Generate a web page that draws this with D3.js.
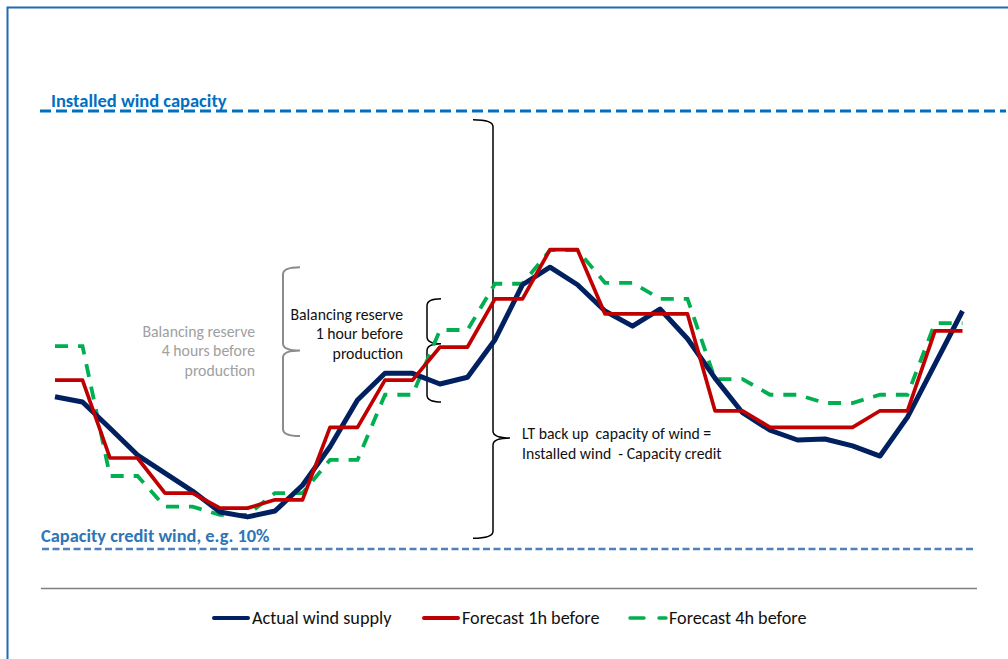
<!DOCTYPE html>
<html>
<head>
<meta charset="utf-8">
<script src="https://cdn.jsdelivr.net/npm/d3@7"></script>
<style>
  html, body { margin: 0; padding: 0; background: #fff; }
  svg { display: block; }
  text { font-family: Carlito, Calibri, Lato, "Open Sans", sans-serif; }
</style>
</head>
<body>
<svg id="chart" width="1008" height="659"></svg>
<script>
// Time steps (hourly) across the day
const steps = [0,1,2,3,4,5,6,7,8,9,10,11,12,13,14,15,16,17,18,19,20,21,22,23,24,25,26,27,28,29,30,31,32,33];

// Wind output, % of installed capacity
const actualSupply = [41.3,40.2,34.8,29.3,25.6,21.9,17.6,16.6,17.8,23.1,31.0,40.6,46.1,46.1,43.9,45.3,
                      53.0,64.3,67.9,64.3,58.9,55.8,59.3,53.2,45.1,38.0,34.4,32.4,32.6,31.2,29.1,37.1,48.0,58.9];
const forecast1h   = [44.7,44.7,28.7,28.7,21.5,21.5,18.4,18.4,20.1,20.1,35.0,35.0,44.7,44.7,51.5,51.5,
                      61.4,61.4,71.5,71.5,58.3,58.3,58.3,58.3,38.4,38.4,35.0,35.0,35.0,35.0,38.4,38.4,54.8,54.8];
const forecast4h   = [51.7,51.7,25.0,25.0,18.7,18.7,17.0,17.0,21.5,21.5,28.3,28.3,41.7,41.7,55.0,55.0,
                      64.5,64.5,71.4,71.4,64.7,64.7,61.4,61.4,44.9,44.9,41.7,41.7,40.0,40.0,41.7,41.7,56.4,56.4];

// Reference levels
const installedCapacity = 100;
const capacityCredit = 10;

// Bands marked with braces: [top, bottom, tip]
const reserve4h = [67.9, 33.2, 50.8];
const reserve1h = [61.4, 40.2, 52.2];
const backupBand = [98.2, 12.2, 32.8];

const seriesNames = ["Actual wind supply", "Forecast 1h before", "Forecast 4h before"];
const seriesColors = ["#002060", "#c00000", "#00b050"];

const svg = d3.select("#chart");

const x = d3.scaleLinear().domain([0, 33]).range([55, 962.5]);
const y = d3.scaleLinear().domain([capacityCredit, installedCapacity]).range([549, 111]);

// Outer frame (top and left edges)
svg.append("path")
  .attr("d", "M7.5,659 L7.5,7.5 L1008,7.5")
  .attr("fill", "none")
  .attr("stroke", "#1f6db1")
  .attr("stroke-width", 2);

// Installed capacity reference line
svg.append("line")
  .attr("x1", 40).attr("x2", 1006)
  .attr("y1", y(installedCapacity)).attr("y2", y(installedCapacity))
  .attr("stroke", "#0070c0").attr("stroke-width", 3)
  .attr("stroke-dasharray", "11,5");

svg.append("text")
  .attr("x", 51).attr("y", y(installedCapacity) - 4)
  .attr("fill", "#0070c0")
  .attr("font-weight", "bold")
  .attr("font-size", 18.5)
  .text("Installed wind capacity");

// Capacity credit reference line
svg.append("line")
  .attr("x1", 42).attr("x2", 975)
  .attr("y1", y(capacityCredit)).attr("y2", y(capacityCredit))
  .attr("stroke", "#4f81bd").attr("stroke-width", 2.5)
  .attr("stroke-dasharray", "7,3.5");

svg.append("text")
  .attr("x", 41).attr("y", y(capacityCredit) - 7)
  .attr("fill", "#2e75b6")
  .attr("font-weight", "bold")
  .attr("font-size", 18.4)
  .text("Capacity credit wind, e.g. 10%");

// Curly brace helper: side = -1 opens left ("{"), +1 opens right ("}")
function brace(xv, yTop, yBot, yTip, arm, tip, side) {
  const r = 7;
  const p = d3.path();
  p.moveTo(xv - side * arm, yTop);
  p.quadraticCurveTo(xv, yTop, xv, yTop + r);
  p.lineTo(xv, yTip - r);
  p.quadraticCurveTo(xv, yTip, xv + side * tip, yTip);
  p.quadraticCurveTo(xv, yTip, xv, yTip + r);
  p.lineTo(xv, yBot - r);
  p.quadraticCurveTo(xv, yBot, xv - side * arm, yBot);
  return p.toString();
}

// 4-hour balancing reserve (grey)
svg.append("path")
  .attr("d", brace(283, y(reserve4h[0]), y(reserve4h[1]), y(reserve4h[2]), 17, -17, -1))
  .attr("fill", "none").attr("stroke", "#8c8c8c").attr("stroke-width", 2);

const grey = svg.append("text")
  .attr("text-anchor", "end").attr("fill", "#a0a0a0").attr("font-size", 15.75);
["Balancing reserve", "4 hours before", "production"].forEach((t, i) =>
  grey.append("tspan").attr("x", 255).attr("y", 336.5 + i * 19.5).text(t));

// 1-hour balancing reserve (black)
svg.append("path")
  .attr("d", brace(427, y(reserve1h[0]), y(reserve1h[1]), y(reserve1h[2]), 14, -14, -1))
  .attr("fill", "none").attr("stroke", "#000").attr("stroke-width", 1.5);

const black = svg.append("text")
  .attr("text-anchor", "end").attr("fill", "#111").attr("font-size", 15.75);
["Balancing reserve", "1 hour before", "production"].forEach((t, i) =>
  black.append("tspan").attr("x", 403).attr("y", 319.5 + i * 19.5).text(t));

// Long-term backup capacity brace
svg.append("path")
  .attr("d", brace(493, y(backupBand[0]), y(backupBand[1]), y(backupBand[2]), 20, 17, 1))
  .attr("fill", "none").attr("stroke", "#000").attr("stroke-width", 1.5);

const lt = svg.append("text").attr("fill", "#111").attr("font-size", 15.75)
  .attr("xml:space", "preserve");
["LT back up  capacity of wind =", "Installed wind  - Capacity credit"].forEach((t, i) =>
  lt.append("tspan").attr("x", 522).attr("y", 438.5 + i * 20).text(t));

// Series lines
const line = d3.line().x((d, i) => x(steps[i])).y(d => y(d));

svg.append("path").datum(forecast4h)
  .attr("d", line).attr("fill", "none")
  .attr("stroke", seriesColors[2]).attr("stroke-width", 3.8)
  .attr("stroke-dasharray", "13,10");

svg.append("path").datum(actualSupply)
  .attr("d", line).attr("fill", "none")
  .attr("stroke", seriesColors[0]).attr("stroke-width", 5)
  .attr("stroke-linejoin", "round");

svg.append("path").datum(forecast1h)
  .attr("d", line).attr("fill", "none")
  .attr("stroke", seriesColors[1]).attr("stroke-width", 3.7)
  .attr("stroke-linejoin", "round");

// Legend separator
svg.append("line")
  .attr("x1", 41).attr("x2", 977).attr("y1", 588.5).attr("y2", 588.5)
  .attr("stroke", "#808080").attr("stroke-width", 1.5);

// Legend
const legendX = [214, 424, 630];
const legendY = 618;
const lg = svg.append("g");
seriesNames.forEach((name, i) => {
  const g = lg.append("g");
  if (i < 2) {
    g.append("line")
      .attr("x1", legendX[i]).attr("x2", legendX[i] + 34)
      .attr("y1", legendY).attr("y2", legendY)
      .attr("stroke", seriesColors[i]).attr("stroke-width", 4)
      .attr("stroke-linecap", "round");
  } else {
    g.append("line")
      .attr("x1", legendX[i]).attr("x2", legendX[i] + 14)
      .attr("y1", legendY).attr("y2", legendY)
      .attr("stroke", seriesColors[i]).attr("stroke-width", 3.5)
      .attr("stroke-linecap", "round");
    g.append("line")
      .attr("x1", legendX[i] + 29).attr("x2", legendX[i] + 36)
      .attr("y1", legendY).attr("y2", legendY)
      .attr("stroke", seriesColors[i]).attr("stroke-width", 3.5)
      .attr("stroke-linecap", "round");
  }
  g.append("text")
    .attr("x", legendX[i] + (i < 2 ? 38 : 39)).attr("y", legendY + 6)
    .attr("fill", "#111").attr("font-size", 18.2)
    .text(name);
});
</script>
</body>
</html>
